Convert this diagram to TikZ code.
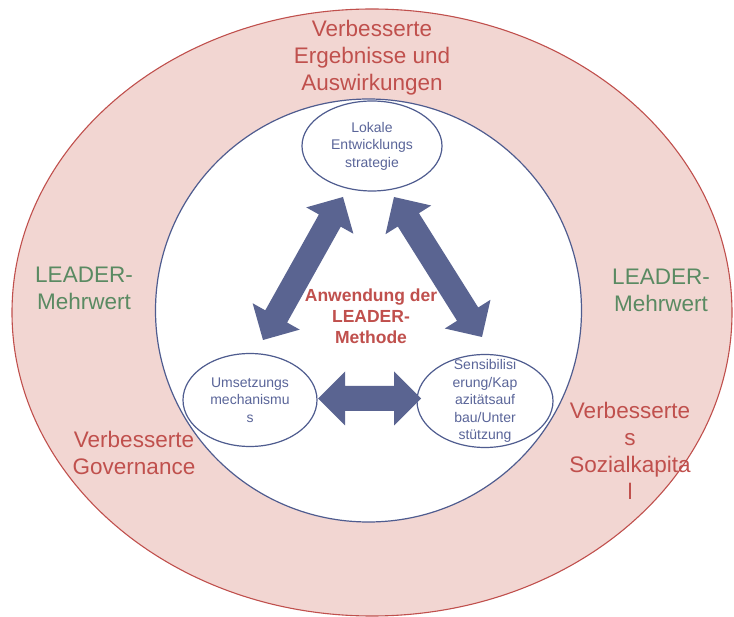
\documentclass[tikz,border=0pt]{standalone}
\usepackage{fontspec}
\setmainfont{Liberation Sans}
\usetikzlibrary{shapes.geometric,calc}

\definecolor{ringfill}{HTML}{F2D6D2}
\definecolor{ringline}{HTML}{C0504D}
\definecolor{redtext}{HTML}{C0504D}
\definecolor{greentext}{HTML}{5A8A62}
\definecolor{blueline}{HTML}{4F5C8F}
\definecolor{bluetext}{HTML}{5A6599}
\definecolor{arrowfill}{HTML}{5A6491}

\tikzset{
  bubble/.style={ellipse, draw=blueline, line width=1.2pt, fill=white, inner sep=0pt},
  bubbletext/.style={text=bluetext, align=center, font=\fontsize{14}{17.5}\selectfont},
  bigred/.style={text=redtext, align=center, font=\fontsize{22.5}{27}\selectfont},
  biggreen/.style={text=greentext, align=center, font=\fontsize{22.5}{27}\selectfont},
  methodtext/.style={text=redtext, align=center, font=\bfseries\fontsize{17.5}{21}\selectfont},
  fatarrow/.style={fill=arrowfill, draw=none}
}

% fat double-headed arrow between two named tips
\newcommand{\fatdouble}[2]{%
  \fill[fatarrow]
    (#1)
    -- ($($(#1)!27pt!(#2)$)!27pt!90:(#2)$)
    -- ($($(#1)!27pt!(#2)$)!12.5pt!90:(#2)$)
    -- ($($(#2)!27pt!(#1)$)!12.5pt!-90:(#1)$)
    -- ($($(#2)!27pt!(#1)$)!27pt!-90:(#1)$)
    -- (#2)
    -- ($($(#2)!27pt!(#1)$)!27pt!90:(#1)$)
    -- ($($(#2)!27pt!(#1)$)!12.5pt!90:(#1)$)
    -- ($($(#1)!27pt!(#2)$)!12.5pt!-90:(#2)$)
    -- ($($(#1)!27pt!(#2)$)!27pt!-90:(#2)$)
    -- cycle;}

\begin{document}
\begin{tikzpicture}[x=1pt,y=-1pt]
\useasboundingbox (0,0) rectangle (734,617);

% outer ring and inner disc
\draw[fill=ringfill, draw=ringline, line width=1.1pt] (372,312.5) ellipse [x radius=360, y radius=303.5];
\draw[fill=white, draw=blueline, line width=1.2pt] (368.5,310.5) ellipse [x radius=213, y radius=211.5];

% three elements of the method
\node[bubble, minimum width=140pt, minimum height=90pt] (lok) at (372,146) {};
\node[bubbletext] (loktext) at (lok) {Lokale\\Entwicklungs\\strategie};

\node[bubble, minimum width=134pt, minimum height=93pt] (ums) at (250,400) {};
\node[bubbletext] (umstext) at (ums) {Umsetzungs\\mechanismu\\s};

\node[bubble, minimum width=136pt, minimum height=93pt] (sen) at (485,401) {};
\node[bubbletext] (sentext) at (sen) {Sensibilisi\\erung/Kap\\azitätsauf\\bau/Unter\\stützung};

% arrow tips
\coordinate (la) at (263,340);
\coordinate (lb) at (343,197);
\coordinate (ra) at (482,337);
\coordinate (rb) at (394,197);
\coordinate (ha) at (318,398.5);
\coordinate (hb) at (421,398.5);

\fatdouble{la}{lb}
\fatdouble{ra}{rb}
\fatdouble{ha}{hb}

% centre label
\node[methodtext] (method) at (371,316) {Anwendung der\\LEADER-\\Methode};

% ring labels
\node[bigred] (results) at (372,58) {Verbesserte\\Ergebnisse und\\Auswirkungen};
\node[biggreen] (addleft) at (84,288) {LEADER-\\Mehrwert};
\node[biggreen] (addright) at (661,290) {LEADER-\\Mehrwert};
\node[bigred] (gov) at (134,453) {Verbesserte\\Governance};
\node[bigred] (social) at (630,451) {Verbesserte\\s\\Sozialkapita\\l};
\end{tikzpicture}
\end{document}
